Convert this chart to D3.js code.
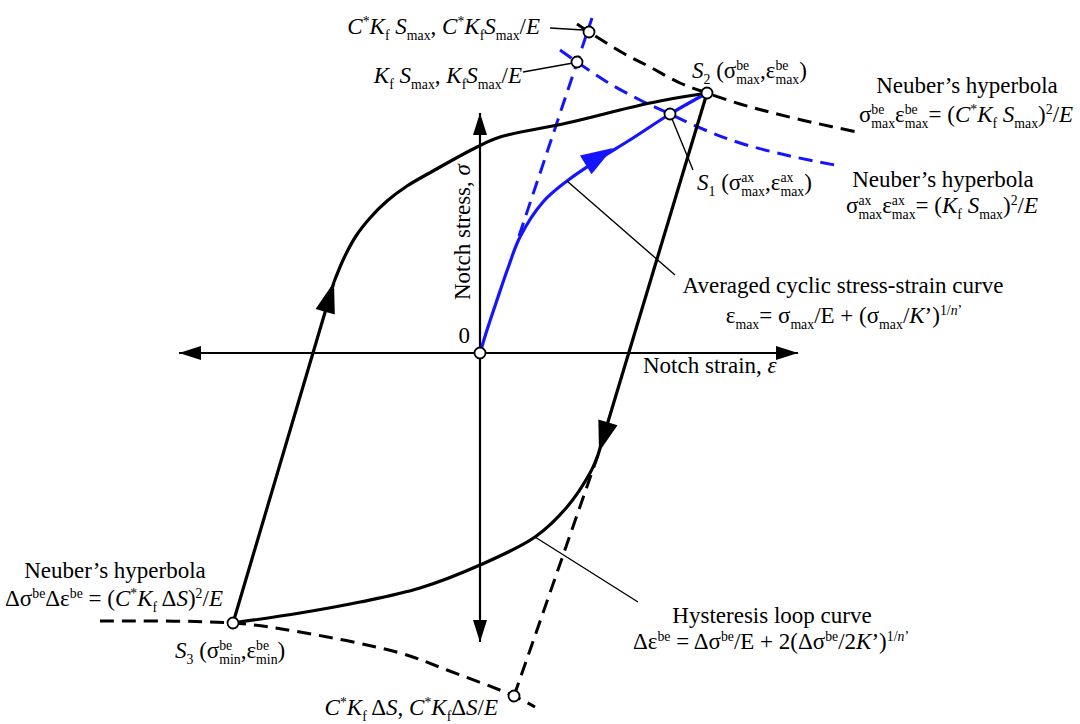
<!DOCTYPE html>
<html>
<head>
<meta charset="utf-8">
<script src="https://cdn.jsdelivr.net/npm/d3@7"></script>
<style>
  body { margin: 0; background: #fff; }
  svg text { font-family: "Liberation Serif", "Times New Roman", serif; white-space: pre; fill: #000; }
</style>
</head>
<body>
<div id="chart"></div>
<script>
// schematic notch stress-strain diagram (units are arbitrary, strain x / stress y)

var width = 1080,
    height = 724;

// ---- data ----
var origin = [0, 0];
var S1 = [1.90, 2.39], S2 = [2.27, 2.60], S3 = [-2.47, -2.70];
var ptKf = [0.97, 2.91], ptCKf = [1.09, 3.21], ptDelta = [0.34, -3.43];

var xAxisEnds = [[-3.01, 0], [3.18, 0]];
var yAxisEnds = [[0, -2.89], [0, 2.40]];

// averaged cyclic curve (blue)
var cyclicCurve = [[0, 0], [0.07, 0.23], [0.17, 0.53], [0.28, 0.85], [0.40, 1.16], [0.63, 1.51],
                   [0.87, 1.72], [1.13, 1.90], [1.53, 2.15], [1.90, 2.39], [2.27, 2.60]];
// elastic line sigma = E eps (blue dashed)
var elasticLine = [[0.39, 1.17], [1.12, 3.35]];
// neuber hyperbolas
var neuberAx = [[0.80, 3.03], [0.97, 2.91], [1.27, 2.71], [1.60, 2.53], [1.90, 2.39], [2.25, 2.23],
                [2.60, 2.10], [3.10, 1.97], [3.60, 1.87]];
var neuberBe = [[0.97, 3.29], [1.09, 3.21], [1.43, 3.00], [1.70, 2.86], [2.00, 2.70], [2.27, 2.60],
                [2.60, 2.49], [2.93, 2.40], [3.35, 2.30], [3.77, 2.21]];
var neuberBottom = [[-3.80, -2.68], [-2.47, -2.70], [-1.80, -2.79], [-0.80, -3.00], [-0.33, -3.17],
                    [0.34, -3.43], [0.55, -3.54]];
var bottomElastic = [[0.34, -3.43], [1.18, -1.02]];

// hysteresis loop
var loopUpLine = [[-2.47, -2.70], [-1.46, 0.71]];
var loopUpCurve = [[-1.46, 0.71], [-1.36, 0.95], [-1.24, 1.17], [-1.10, 1.35], [-0.93, 1.52], [-0.73, 1.67],
                   [-0.47, 1.82], [-0.03, 2.06], [0.20, 2.16], [0.87, 2.30], [1.70, 2.50], [2.27, 2.60]];
var loopDownLine = [[2.27, 2.60], [1.18, -1.02]];
var loopDownCurve = [[1.18, -1.02], [1.10, -1.20], [0.87, -1.54], [0.55, -1.84], [0.00, -2.12],
                     [-0.60, -2.35], [-1.20, -2.49], [-1.80, -2.60], [-2.47, -2.70]];

// leader lines
var leaders = [[[0.70, 3.25], [1.03, 3.23]], [[0.43, 2.81], [0.93, 2.90]], [[1.90, 2.39], [2.13, 1.83]],
               [[0.87, 1.72], [1.95, 0.78]], [[0.55, -1.84], [1.58, -2.49]]];

// direction arrows: tip + a point behind it
var loopArrows = [{tip: [-1.46, 0.71], from: [-2.47, -2.70]}, {tip: [1.19, -0.99], from: [2.27, 2.60]}];
var blueArrow = {tip: [1.33, 2.05], from: [1.07, 1.89]};

var points = [origin, S2, S1, ptKf, ptCKf, S3, ptDelta];

// label texts: [type, text, (sub text for stacked)]
var txtCKf = [["i","C"],["sup","*"],["i","K"],["sub","f"],["n"," "],["i","S"],["sub","max"],["n",", "],["i","C"],["sup","*"],["i","K"],["sub","f"],["i","S"],["sub","max"],["n","/"],["i","E"]];
var txtKf = [["i","K"],["sub","f"],["n"," "],["i","S"],["sub","max"],["n",", "],["i","K"],["sub","f"],["i","S"],["sub","max"],["n","/"],["i","E"]];
var txtS2 = [["i","S"],["sub","2"],["n"," (σ"],["ss","be","max"],["n",",ε"],["ss","be","max"],["n",")"]];
var txtS1 = [["i","S"],["sub","1"],["n"," (σ"],["ss","ax","max"],["n",",ε"],["ss","ax","max"],["n",")"]];
var txtS3 = [["i","S"],["sub","3"],["n"," (σ"],["ss","be","min"],["n",",ε"],["ss","be","min"],["n",")"]];
var txtNeuber = [["n","Neuber’s hyperbola"]];
var txtNeuberBe = [["n","σ"],["ss","be","max"],["n","ε"],["ss","be","max"],["n","= ("],["i","C"],["sup","*"],["i","K"],["sub","f"],["n"," "],["i","S"],["sub","max"],["n",")"],["sup","2"],["n","/"],["i","E"]];
var txtNeuberAx = [["n","σ"],["ss","ax","max"],["n","ε"],["ss","ax","max"],["n","= ("],["i","K"],["sub","f"],["n"," "],["i","S"],["sub","max"],["n",")"],["sup","2"],["n","/"],["i","E"]];
var txtAvg = [["n","Averaged cyclic stress-strain curve"]];
var txtAvgEq = [["n","ε"],["sub","max"],["n","= σ"],["sub","max"],["n","/E + (σ"],["sub","max"],["n","/"],["i","K"],["n","’)"],["sup","1/"],["supi","n"],["sup","’"]];
var txtHyst = [["n","Hysteresis loop curve"]];
var txtHystEq = [["n","Δε"],["sup","be"],["n"," = Δσ"],["sup","be"],["n","/E + 2(Δσ"],["sup","be"],["n","/2"],["i","K"],["n","’)"],["sup","1/"],["supi","n"],["sup","’"]];
var txtNeuberDelta = [["n","Δσ"],["sup","be"],["n","Δε"],["sup","be"],["n"," = ("],["i","C"],["sup","*"],["i","K"],["sub","f"],["n"," Δ"],["i","S"],["n",")"],["sup","2"],["n","/"],["i","E"]];
var txtDelta = [["i","C"],["sup","*"],["i","K"],["sub","f"],["n"," Δ"],["i","S"],["n",", "],["i","C"],["sup","*"],["i","K"],["sub","f"],["n","Δ"],["i","S"],["n","/"],["i","E"]];
var txtStrain = [["n","Notch strain, "],["i","ε"]];
var txtStress = [["n","Notch stress, "],["i","σ"]];

// ---- drawing ----
var svg = d3.select("#chart").append("svg")
    .attr("width", width)
    .attr("height", height);

var x = d3.scaleLinear().domain([-4.8, 6.0]).range([0, width]);
var y = d3.scaleLinear().domain([3.53, -3.71]).range([0, height]);

var straight = d3.line().x(function(d) { return x(d[0]); }).y(function(d) { return y(d[1]); });
var smooth = d3.line().x(function(d) { return x(d[0]); }).y(function(d) { return y(d[1]); })
    .curve(d3.curveCatmullRom.alpha(0.5));

function draw(pts, gen, color, w, dash) {
  svg.append("path")
     .attr("d", gen(pts))
     .attr("fill", "none")
     .attr("stroke", color)
     .attr("stroke-width", w)
     .attr("stroke-dasharray", dash || null)
     .attr("stroke-linecap", "butt")
     .attr("stroke-linejoin", "round");
}

// arrowhead triangle, tip and 'from' in data units
function arrow(tip, from, len, half, color) {
  var tx = x(tip[0]), ty = y(tip[1]);
  var dx = tx - x(from[0]), dy = ty - y(from[1]);
  var l = Math.sqrt(dx * dx + dy * dy); dx /= l; dy /= l;
  var bx = tx - dx * len, by = ty - dy * len;
  svg.append("polygon")
     .attr("points", [[tx, ty], [bx - dy * half, by + dx * half], [bx + dy * half, by - dx * half]].join(" "))
     .attr("fill", color);
}

var black = "#000", blue = "#1414ff";

// axes
draw(xAxisEnds, straight, black, 2.2);
draw(yAxisEnds, straight, black, 2.2);
arrow(xAxisEnds[0], xAxisEnds[1], 22, 7, black);
arrow(xAxisEnds[1], xAxisEnds[0], 22, 7, black);
arrow(yAxisEnds[0], yAxisEnds[1], 22, 7, black);
arrow(yAxisEnds[1], yAxisEnds[0], 22, 7, black);

// dashed construction lines
draw(neuberBe, smooth, black, 3, "14,8");
draw(neuberBottom, smooth, black, 3, "14,8");
draw(bottomElastic, straight, black, 3, "14,8");
draw(neuberAx, smooth, blue, 3, "14,8");
draw(elasticLine, straight, blue, 3, "14,8");

// hysteresis loop
draw(loopUpLine, straight, black, 3.2);
draw(loopUpCurve, smooth, black, 3.2);
draw(loopDownLine, straight, black, 3.2);
draw(loopDownCurve, smooth, black, 3.2);
loopArrows.forEach(function(a) { arrow(a.tip, a.from, 31, 10, black); });

// cyclic curve
draw(cyclicCurve, smooth, blue, 3.2);
arrow(blueArrow.tip, blueArrow.from, 32, 11, blue);

// leader lines
leaders.forEach(function(l) { draw(l, straight, black, 1.4); });

// points
svg.selectAll("circle.pt")
   .data(points)
   .enter().append("circle")
   .attr("class", "pt")
   .attr("cx", function(d) { return x(d[0]); })
   .attr("cy", function(d) { return y(d[1]); })
   .attr("r", 5.5)
   .attr("fill", "#fff")
   .attr("stroke", black)
   .attr("stroke-width", 1.8);

// rich text: pieces laid out one after another, measured as they go
function rich(tokens, pos, anchor, size, rotate) {
  var g = svg.append("g");
  var small = size * 0.6, cx = 0;
  function piece(str, dy, fs, italic) {
    var t = g.append("text").attr("x", cx).attr("y", dy).attr("font-size", fs)
             .attr("font-style", italic ? "italic" : null).text(str);
    return t.node().getComputedTextLength();
  }
  tokens.forEach(function(tk) {
    var type = tk[0];
    if (type === "ss") {
      var w1 = piece(tk[1], -size * 0.36, small, false);
      var w2 = piece(tk[2], size * 0.24, small, false);
      cx += Math.max(w1, w2);
    } else if (type === "sup" || type === "supi") {
      cx += piece(tk[1], -size * 0.36, small, type === "supi");
    } else if (type === "sub") {
      cx += piece(tk[1], size * 0.24, small, false);
    } else {
      cx += piece(tk[1], 0, size, type === "i");
    }
  });
  var off = anchor === "middle" ? -cx / 2 : anchor === "end" ? -cx : 0;
  var px = x(pos[0]), py = y(pos[1]);
  g.attr("transform", "translate(" + px + "," + py + ")" + (rotate ? " rotate(" + rotate + ")" : "") +
         " translate(" + off + ",0)");
}

var fs = 23;
rich(txtCKf, [0.60, 3.19], "end", fs);
rich(txtKf, [0.42, 2.70], "end", fs);
rich(txtS2, [2.12, 2.75], "start", fs);
rich(txtNeuber, [4.87, 2.60], "middle", fs);
rich(txtNeuberBe, [4.86, 2.31], "middle", fs);
rich(txtS1, [2.17, 1.63], "start", fs);
rich(txtNeuber, [4.63, 1.66], "middle", fs);
rich(txtNeuberAx, [4.62, 1.40], "middle", fs);
rich(txtAvg, [3.63, 0.60], "middle", fs);
rich(txtAvgEq, [3.64, 0.30], "middle", fs);
rich(txtHyst, [2.92, -2.70], "middle", fs);
rich(txtHystEq, [2.91, -2.96], "middle", fs);
rich(txtNeuber, [-3.65, -2.25], "middle", fs);
rich(txtNeuberDelta, [-3.66, -2.53], "middle", fs);
rich(txtS3, [-3.05, -3.05], "start", fs);
rich(txtDelta, [0.18, -3.62], "end", fs);
rich(txtStrain, [1.63, -0.20], "start", 23);
rich(txtStress, [-0.10, 0.53], "start", 23, -90);
rich([["n","0"]], [-0.10, 0.10], "end", 23);
</script>
</body>
</html>
